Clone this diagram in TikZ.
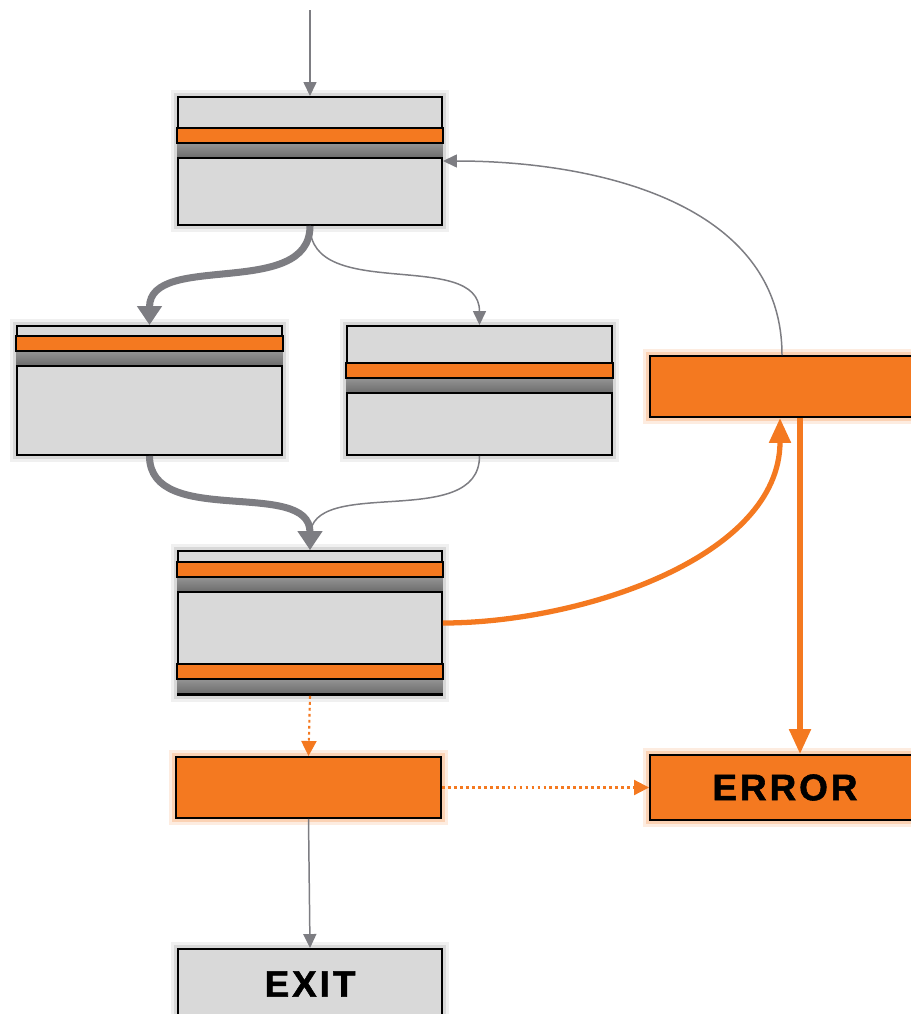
\documentclass[tikz,border=0pt]{standalone}
\usepackage{fontspec}
\newfontfamily\flowfont[LetterSpace=8, BoldFeatures={FakeBold=1.5}]{Liberation Sans}
\usetikzlibrary{arrows.meta,calc}

\definecolor{flowOrange}{RGB}{244,121,32}
\definecolor{boxGray}{RGB}{217,217,217}
\definecolor{lineGray}{RGB}{125,125,130}

% orange stripe over a grey band, #1 node, #2 stripe top below node top
\newcommand{\stripe}[2]{%
  \fill[band] ($(#1.north west)+(0,#2+15)$) rectangle ($(#1.north east)+(0,#2+30)$);
  \draw[bandline] ($(#1.north west)+(0,#2+30)$) -- ($(#1.north east)+(0,#2+30)$);
  \draw[stripebox] ($(#1.north west)+(0,#2)$) rectangle ($(#1.north east)+(0,#2+15)$);
}

\begin{document}
\begin{tikzpicture}[
    x=0.02cm, y=-0.02cm,
    glowgray/.style={preaction={draw=black, opacity=0.06, line width=8pt},
                     preaction={draw=black, opacity=0.1, line width=4.5pt}},
    gloworange/.style={preaction={draw=flowOrange!70, opacity=0.2, line width=8pt},
                       preaction={draw=flowOrange!70, opacity=0.35, line width=4.5pt}},
    box/.style={rectangle, draw=black, line width=1.1pt, fill=boxGray, inner sep=0pt, glowgray},
    flag/.style={rectangle, draw=black, line width=1.1pt, fill=flowOrange, inner sep=0pt, gloworange},
    tag/.style={font=\flowfont\bfseries\fontsize{21}{25}\selectfont, text=black},
    band/.style={top color=black!42, bottom color=black!58},
    bandline/.style={draw=black, line width=1.1pt},
    stripebox/.style={draw=black, line width=1.1pt, fill=flowOrange},
    thin/.style={draw=lineGray, line width=0.85pt, -{Triangle[length=0.28cm,width=0.26cm]}},
    heavy/.style={draw=lineGray, line width=4pt, -{Triangle[length=0.38cm,width=0.48cm]}},
    fault/.style={draw=flowOrange, line width=3pt, -{Triangle[length=0.5cm,width=0.42cm]}},
    dots/.style={draw=flowOrange, line width=1.2pt, dash pattern=on 1.6pt off 1.8pt, -{Triangle[length=0.3cm,width=0.3cm]}}
]
\clip (0,0) rectangle (911,1014);

% Entry
\coordinate (start) at (310,10);
\node[box, minimum width=264*0.02cm, minimum height=128*0.02cm] (check) at (310,161) {};

% Branches
\node[box, minimum width=265*0.02cm, minimum height=129*0.02cm] (left) at (149.5,390.5) {};
\node[box, minimum width=265*0.02cm, minimum height=129*0.02cm] (right) at (479.5,390.5) {};

% Merge
\node[box, minimum width=264*0.02cm, minimum height=144*0.02cm] (merge) at (310,623) {};

% Handlers
\node[flag, minimum width=270*0.02cm, minimum height=61*0.02cm] (retry) at (785,386.5) {};
\node[flag, minimum width=265*0.02cm, minimum height=61*0.02cm] (cleanup) at (308.5,787.5) {};
\node[flag, minimum width=270*0.02cm, minimum height=65*0.02cm, tag] (error) at (785,787.5) {ERROR};
\node[box, minimum width=264*0.02cm, minimum height=70*0.02cm, tag] (exit) at (310,984) {EXIT};

% Stripes
\stripe{check}{32}
\stripe{left}{11}
\stripe{right}{38}
\stripe{merge}{12}
\stripe{merge}{114}

% Flow
\draw[thin] (start) -- (check.north);
\draw[heavy] (check.south) to[out=-90,in=90] (left.north);
\draw[thin] (check.south) to[out=-90,in=90] (right.north);
\draw[heavy] (left.south) to[out=-90,in=90] (merge.north);
\draw[thin] (right.south) to[out=-90,in=90] (merge.north);

% Failure paths
\draw[fault] (merge.east) to[out=0,in=-90,looseness=0.9] ($(retry.south)+(-5,0)$);
\draw[thin] ($(retry.north)+(-3,0)$) to[out=90,in=0] (check.east);
\draw[fault] ($(retry.south)+(15,0)$) -- ($(error.north)+(15,0)$);
\draw[dots] (merge.south) -- (cleanup.north);
\draw[dots] (cleanup.east) -- (error.west);
\draw[thin] (cleanup.south) -- (exit.north);

\end{tikzpicture}
\end{document}
